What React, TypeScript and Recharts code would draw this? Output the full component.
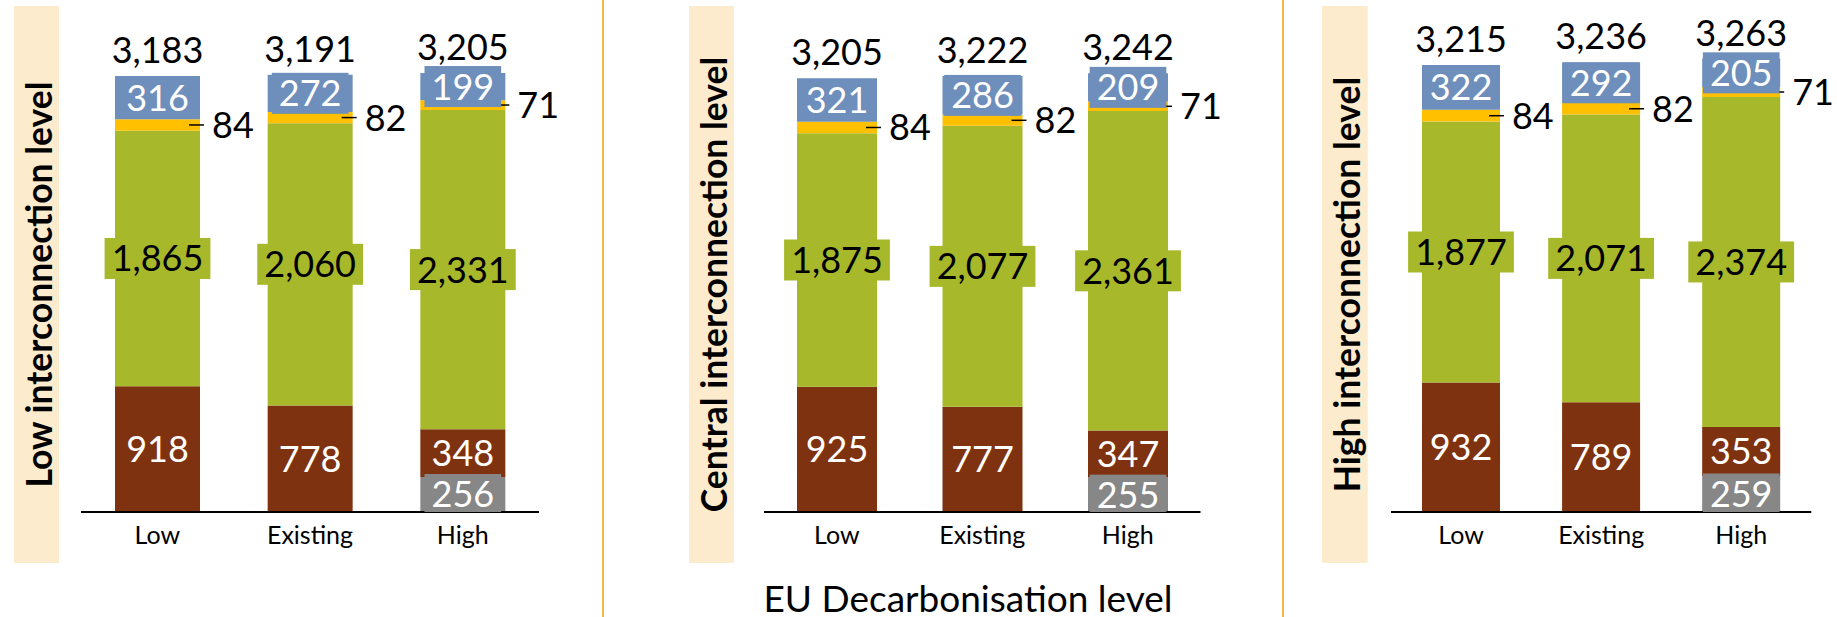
import { Bar, BarChart, LabelList, XAxis, YAxis } from "recharts";

const categories = ["Low", "Existing", "High"];

// Low interconnection level
const lowGray = [0, 0, 256];
const lowBrown = [918, 778, 348];
const lowGreen = [1865, 2060, 2331];
const lowOrange = [84, 82, 71];
const lowBlue = [316, 272, 199];
const lowTotal = [3183, 3191, 3205];

// Central interconnection level
const centralGray = [0, 0, 255];
const centralBrown = [925, 777, 347];
const centralGreen = [1875, 2077, 2361];
const centralOrange = [84, 82, 71];
const centralBlue = [321, 286, 209];
const centralTotal = [3205, 3222, 3242];

// High interconnection level
const highGray = [0, 0, 259];
const highBrown = [932, 789, 353];
const highGreen = [1877, 2071, 2374];
const highOrange = [84, 82, 71];
const highBlue = [322, 292, 205];
const highTotal = [3215, 3236, 3263];

const FONT = "Lato, 'Noto Sans', sans-serif";
const W = 1837;
const H = 617;
const PLOT_BOTTOM = 512;
const Y_MAX = 3500;
const LABEL_SIZE = 36;

const COLORS = {
  gray: "#878787",
  brown: "#7f3210",
  green: "#a7b82a",
  orange: "#ffc000",
  blue: "#6e8ebb",
  band: "#fdebcd",
  rule: "#f5b746",
};

const fmt = new Intl.NumberFormat("en-US");

type Row = { category: string; gray: number; brown: number; green: number; orange: number; blue: number; total: number };

function buildRows(gray: number[], brown: number[], green: number[], orange: number[], blue: number[], total: number[]): Row[] {
  return categories.map((category, i) => ({
    category,
    gray: gray[i],
    brown: brown[i],
    green: green[i],
    orange: orange[i],
    blue: blue[i],
    total: total[i],
  }));
}

const panels = [
  {
    title: "Low interconnection level",
    rows: buildRows(lowGray, lowBrown, lowGreen, lowOrange, lowBlue, lowTotal),
    left: 81,
    axisLen: 458,
    pxPerUnit: 0.137,
    barSize: 85,
    rightPad: 60,
    band: [14, 59],
  },
  {
    title: "Central interconnection level",
    rows: buildRows(centralGray, centralBrown, centralGreen, centralOrange, centralBlue, centralTotal),
    left: 764,
    axisLen: 436.5,
    pxPerUnit: 0.1353,
    barSize: 80,
    rightPad: 60,
    band: [689, 734],
  },
  {
    title: "High interconnection level",
    rows: buildRows(highGray, highBrown, highGreen, highOrange, highBlue, highTotal),
    left: 1390.7,
    axisLen: 420.3,
    pxPerUnit: 0.139,
    barSize: 78,
    rightPad: 30,
    band: [1322, 1367.7],
  },
];

function rectOf(props: any) {
  const vb = props.viewBox && props.viewBox.width != null ? props.viewBox : props;
  const x = Number(vb.x);
  const y = Number(vb.y);
  const w = Number(vb.width);
  const h = Number(vb.height);
  return { left: x, right: x + w, top: Math.min(y, y + h), bottom: Math.max(y, y + h) };
}

// Lato: digits 0.58em, comma ~0.23em
const textWidth = (text: string, size: number) =>
  text.split("").reduce((sum, ch) => sum + (ch === "," ? 0.23 : 0.58), 0) * size;

function insideLabel(fill: string, color: string) {
  return (props: any) => {
    const v = Number(props.value);
    if (!v) return null;
    const b = rectOf(props);
    const text = fmt.format(v);
    const tw = textWidth(text, LABEL_SIZE);
    const cx = (b.left + b.right) / 2;
    const cy = (b.top + b.bottom) / 2;
    const top = cy - 20.5;
    const bottom = Math.min(cy + 20.5, PLOT_BOTTOM);
    return (
      <g>
        <rect x={cx - tw / 2 - 7} y={top} width={tw + 14} height={bottom - top} fill={fill} />
        <text x={cx} y={cy + 0.36 * LABEL_SIZE} textAnchor="middle" fill={color} fontSize={LABEL_SIZE} fontFamily={FONT}>
          {text}
        </text>
      </g>
    );
  };
}

function sideLabel(props: any) {
  const v = Number(props.value);
  if (!v) return null;
  const b = rectOf(props);
  const cy = (b.top + b.bottom) / 2;
  return (
    <g>
      <line x1={b.right - 11} x2={b.right + 4} y1={cy} y2={cy} stroke="#000" strokeWidth={1.5} />
      <text x={b.right + 12} y={cy + 0.36 * LABEL_SIZE} fill="#000" fontSize={LABEL_SIZE} fontFamily={FONT}>
        {fmt.format(v)}
      </text>
    </g>
  );
}

function totalLabel(props: any) {
  const v = Number(props.value);
  if (!v) return null;
  const b = rectOf(props);
  return (
    <text x={(b.left + b.right) / 2} y={b.top - 13} textAnchor="middle" fill="#000" fontSize={LABEL_SIZE} fontFamily={FONT}>
      {fmt.format(v)}
    </text>
  );
}

function PanelChart({ panel }: { panel: (typeof panels)[number] }) {
  const top = PLOT_BOTTOM - Y_MAX * panel.pxPerUnit;
  return (
    <div style={{ position: "absolute", left: panel.left, top: 0 }}>
      <BarChart
        width={panel.axisLen + panel.rightPad}
        height={H}
        data={panel.rows}
        margin={{ top, right: panel.rightPad, bottom: 65, left: 0 }}
        barSize={panel.barSize}
      >
        <XAxis
          dataKey="category"
          height={40}
          interval={0}
          tickLine={false}
          tickSize={0}
          tickMargin={14}
          axisLine={{ stroke: "#000", strokeWidth: 2 }}
          tick={{ fontSize: 25, fill: "#000", fontFamily: FONT }}
        />
        <YAxis hide type="number" domain={[0, Y_MAX]} />
        <Bar dataKey="gray" stackId="s" fill={COLORS.gray} isAnimationActive={false}>
          <LabelList dataKey="gray" content={insideLabel(COLORS.gray, "#fff")} />
        </Bar>
        <Bar dataKey="brown" stackId="s" fill={COLORS.brown} isAnimationActive={false}>
          <LabelList dataKey="brown" content={insideLabel(COLORS.brown, "#fff")} />
        </Bar>
        <Bar dataKey="green" stackId="s" fill={COLORS.green} isAnimationActive={false}>
          <LabelList dataKey="green" content={insideLabel(COLORS.green, "#000")} />
        </Bar>
        <Bar dataKey="orange" stackId="s" fill={COLORS.orange} isAnimationActive={false}>
          <LabelList dataKey="orange" content={sideLabel} />
        </Bar>
        <Bar dataKey="blue" stackId="s" fill={COLORS.blue} isAnimationActive={false}>
          <LabelList dataKey="blue" content={insideLabel(COLORS.blue, "#fff")} />
          <LabelList dataKey="total" content={totalLabel} />
        </Bar>
      </BarChart>
    </div>
  );
}

export default function App() {
  return (
    <div
      style={{
        position: "absolute",
        left: 0,
        top: 0,
        width: W,
        height: H,
        overflow: "hidden",
        background: "#fff",
        fontFamily: FONT,
      }}
    >
      <svg width={W} height={H} style={{ position: "absolute", left: 0, top: 0 }}>
        <line x1={603} x2={603} y1={0} y2={H} stroke={COLORS.rule} strokeWidth={2} />
        <line x1={1283} x2={1283} y1={0} y2={H} stroke={COLORS.rule} strokeWidth={2} />
        {panels.map((p) => (
          <g key={p.title}>
            <rect x={p.band[0]} y={6} width={p.band[1] - p.band[0]} height={557} fill={COLORS.band} />
            <text
              transform={`translate(${p.band[1] - 7.5}, 284.5) rotate(-90)`}
              textAnchor="middle"
              fontSize={35.5}
              fontWeight={700}
              fontFamily={FONT}
              fill="#000"
            >
              {p.title}
            </text>
          </g>
        ))}
        <text x={968} y={611.7} textAnchor="middle" fontSize={37} fontFamily={FONT} fill="#000">
          EU Decarbonisation level
        </text>
      </svg>
      {panels.map((p) => (
        <PanelChart key={p.title} panel={p} />
      ))}
    </div>
  );
}
